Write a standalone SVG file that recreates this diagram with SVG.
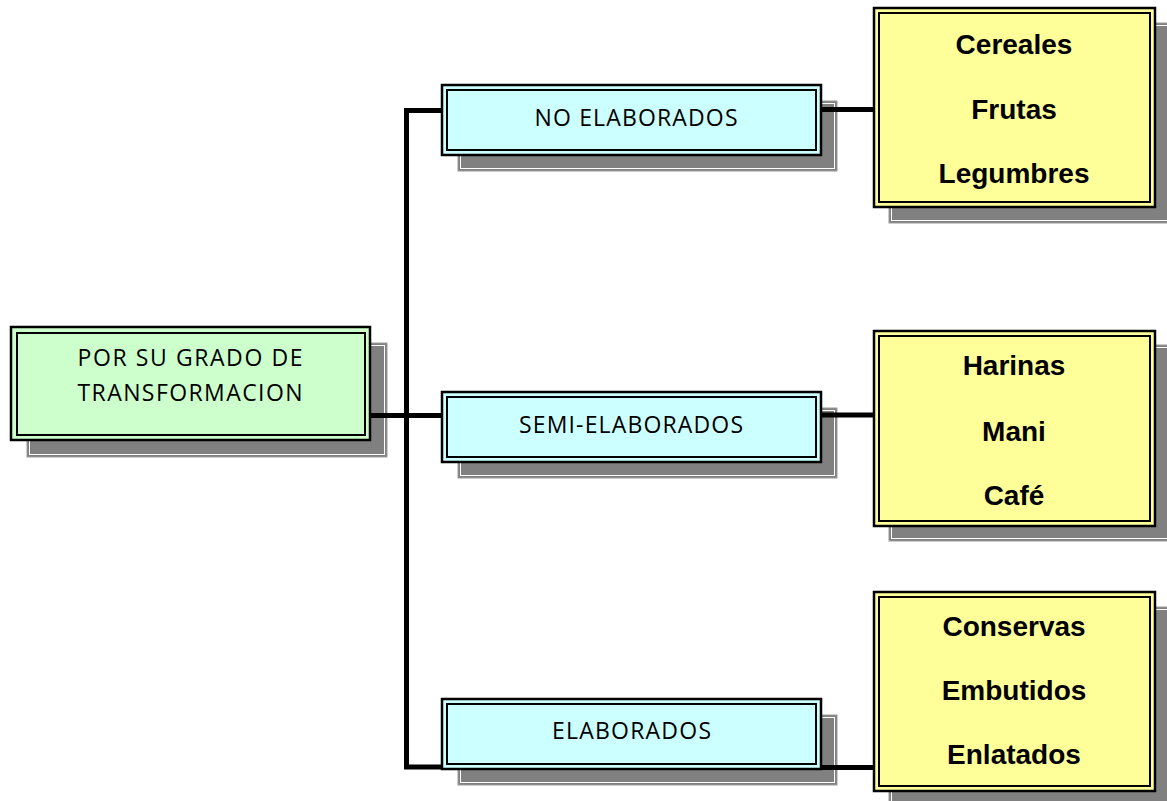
<svg xmlns="http://www.w3.org/2000/svg" width="1167" height="801" viewBox="0 0 1167 801">
<style>
.sh{fill:#808080;stroke:#9a9a9a;stroke-width:1}
.shl{fill:none;stroke:#ffffff;stroke-width:1}
.out{stroke:#000;stroke-width:2.5}
.in{fill:none;stroke:#000;stroke-width:2}
.g{fill:#ccffcc}
.b{fill:#ccffff}
.y{fill:#ffff99}
.t1{font-family:"Open Sans","Noto Sans",sans-serif;font-size:23px;fill:#000;text-anchor:middle}
.t2{font-family:"Liberation Sans",Arial,sans-serif;font-weight:bold;font-size:28px;fill:#000;text-anchor:middle}
.c{fill:none;stroke:#000;stroke-width:5;stroke-linejoin:miter;stroke-linecap:butt}
</style>
<rect width="1167" height="801" fill="#ffffff"/>
<g id="root">
<rect class="sh" x="27" y="343" width="360" height="114"/>
<rect class="shl" x="29.5" y="345.5" width="355" height="109"/>
<rect class="out g" x="11" y="327" width="359" height="113"/>
<rect class="in" x="17" y="333" width="348" height="102"/>
<text class="t1" x="190" y="366" textLength="225" lengthAdjust="spacing">POR SU GRADO DE</text>
<text class="t1" x="190" y="401" textLength="225" lengthAdjust="spacing">TRANSFORMACION</text>
</g>
<g id="no-elaborados">
<rect class="sh" x="458" y="101" width="379" height="70"/>
<rect class="shl" x="460.5" y="103.5" width="374" height="65"/>
<rect class="out b" x="442" y="85" width="379" height="70"/>
<rect class="in" x="447" y="90" width="369" height="60"/>
<text class="t1" x="636" y="126" textLength="203" lengthAdjust="spacing">NO ELABORADOS</text>
</g>
<g id="semi-elaborados">
<rect class="sh" x="458" y="408" width="379" height="70"/>
<rect class="shl" x="460.5" y="410.5" width="374" height="65"/>
<rect class="out b" x="442" y="392" width="379" height="70"/>
<rect class="in" x="447" y="397" width="369" height="60"/>
<text class="t1" x="631" y="433" textLength="224" lengthAdjust="spacing">SEMI-ELABORADOS</text>
</g>
<g id="elaborados">
<rect class="sh" x="458" y="715" width="379" height="70"/>
<rect class="shl" x="460.5" y="717.5" width="374" height="65"/>
<rect class="out b" x="442" y="699" width="379" height="70"/>
<rect class="in" x="447" y="704" width="369" height="60"/>
<text class="t1" x="631.5" y="739" textLength="159" lengthAdjust="spacing">ELABORADOS</text>
</g>
<g id="no-elaborados-items">
<rect class="sh" x="889" y="23" width="285" height="200"/>
<rect class="shl" x="891.5" y="25.5" width="280" height="195"/>
<rect class="out y" x="874" y="8" width="281" height="199"/>
<rect class="in" x="879" y="13" width="271" height="189"/>
<text class="t2" x="1014" y="54">Cereales</text>
<text class="t2" x="1014" y="119">Frutas</text>
<text class="t2" x="1014" y="183">Legumbres</text>
</g>
<g id="semi-elaborados-items">
<rect class="sh" x="889" y="345" width="285" height="196"/>
<rect class="shl" x="891.5" y="347.5" width="280" height="191"/>
<rect class="out y" x="874" y="331" width="281" height="195"/>
<rect class="in" x="879" y="336" width="271" height="185"/>
<text class="t2" x="1014" y="375">Harinas</text>
<text class="t2" x="1014" y="441">Mani</text>
<text class="t2" x="1014" y="505">Café</text>
</g>
<g id="elaborados-items">
<rect class="sh" x="889" y="607" width="285" height="200"/>
<rect class="shl" x="891.5" y="609.5" width="280" height="195"/>
<rect class="out y" x="874" y="592" width="281" height="199"/>
<rect class="in" x="879" y="597" width="271" height="189"/>
<text class="t2" x="1014" y="636">Conservas</text>
<text class="t2" x="1014" y="700">Embutidos</text>
<text class="t2" x="1014" y="764">Enlatados</text>
</g>
<g id="connectors">
<path class="c" d="M442,110.5 H406.5 V767 H442"/>
<path class="c" d="M370,415.5 H442"/>
<path class="c" d="M821,109.5 H874"/>
<path class="c" d="M821,415 H874"/>
<path class="c" d="M821,767.5 H874"/>
</g>
</svg>
